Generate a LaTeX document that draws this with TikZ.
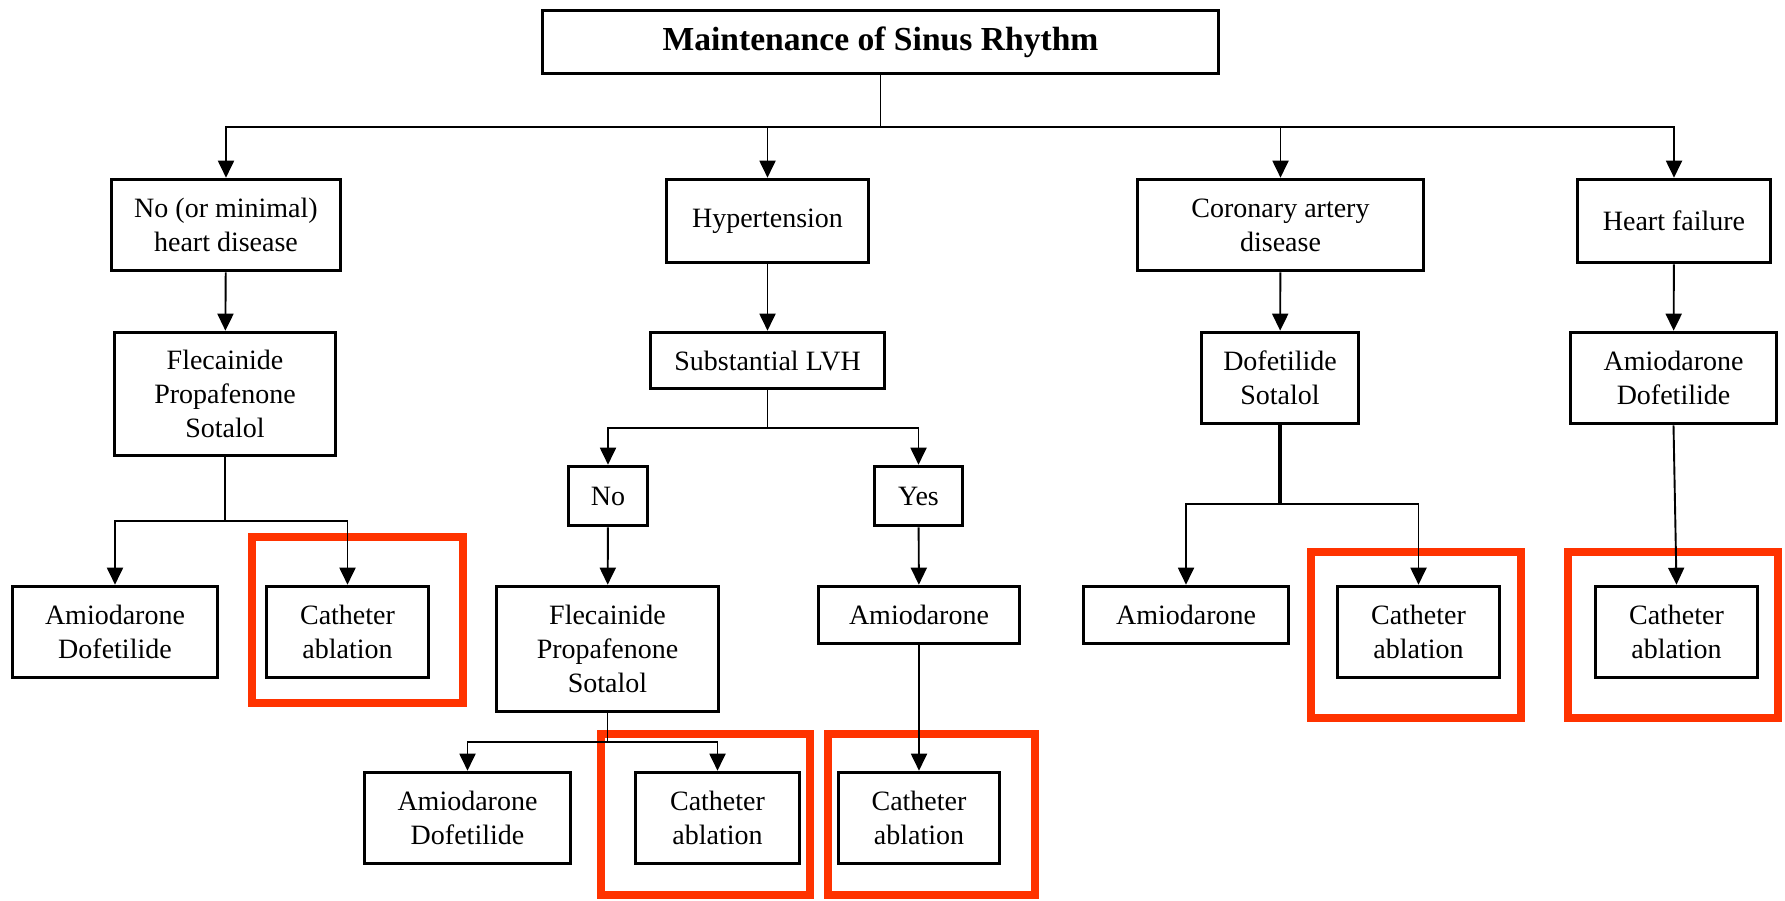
\documentclass[tikz,border=0pt]{standalone}
\usepackage{fontspec}
\setmainfont{Liberation Serif}
\usetikzlibrary{arrows.meta}
\definecolor{flag}{RGB}{255,51,0}

\begin{document}
\begin{tikzpicture}[x=1pt,y=-1pt,
  box/.style={draw, line width=3.6pt, rectangle, inner sep=0pt, align=center,
              font=\fontsize{28}{34}\selectfont},
  link/.style={line width=1.9pt},
  arr/.style={link, -{Triangle[length=17pt,width=16pt]}},
  flagbox/.style={draw=flag, line width=8pt}]

\useasboundingbox (0,0) rectangle (1785,901);

% highlight frames around the ablation options (drawn first, lines run over them)
\draw[flagbox] (252,537) rectangle (463,703);
\draw[flagbox] (601,734) rectangle (810,895);
\draw[flagbox] (828,734) rectangle (1035,895);
\draw[flagbox] (1311,552) rectangle (1521,718);
\draw[flagbox] (1568,552) rectangle (1778,718);

% root
\node[box, minimum width=676pt, minimum height=63pt,
      font=\fontsize{33.6}{40}\selectfont\bfseries] (top) at (880.5,42) {Maintenance of Sinus Rhythm};

% first level
\node[box, minimum width=229pt, minimum height=91pt] (nmh) at (226,225) {No (or minimal)\\heart disease};
\node[box, minimum width=202pt, minimum height=83pt] (htn) at (767.5,221) {Hypertension};
\node[box, minimum width=286pt, minimum height=91pt] (cad) at (1280.5,225) {Coronary artery\\disease};
\node[box, minimum width=193pt, minimum height=83pt] (hf) at (1674,221) {Heart failure};

% second level
\node[box, minimum width=221pt, minimum height=123pt] (flecA) at (225,394) {Flecainide\\Propafenone\\Sotalol};
\node[box, minimum width=234pt, minimum height=56pt] (lvh) at (767.5,360.5) {Substantial LVH};
\node[box, minimum width=157pt, minimum height=91pt] (dofsot) at (1280,378) {Dofetilide\\Sotalol};
\node[box, minimum width=206pt, minimum height=91pt] (amidofH) at (1673.5,378) {Amiodarone\\Dofetilide};

% LVH answers
\node[box, minimum width=79pt, minimum height=59pt] (no) at (608,496) {No};
\node[box, minimum width=88pt, minimum height=59pt] (yes) at (918.5,496) {Yes};

% third level
\node[box, minimum width=205pt, minimum height=91pt] (amidofA) at (115,632) {Amiodarone\\Dofetilide};
\node[box, minimum width=162pt, minimum height=91pt] (cathA) at (347.5,632) {Catheter\\ablation};
\node[box, minimum width=222pt, minimum height=125pt] (flecB) at (607.5,649) {Flecainide\\Propafenone\\Sotalol};
\node[box, minimum width=201pt, minimum height=57pt] (amiY) at (919,615) {Amiodarone};
\node[box, minimum width=205pt, minimum height=57pt] (amiC) at (1186,615) {Amiodarone};
\node[box, minimum width=162pt, minimum height=91pt] (cathC) at (1418.5,632) {Catheter\\ablation};
\node[box, minimum width=162pt, minimum height=91pt] (cathH) at (1676.5,632) {Catheter\\ablation};

% fourth level
\node[box, minimum width=206pt, minimum height=91pt] (amidofB) at (467.5,818) {Amiodarone\\Dofetilide};
\node[box, minimum width=164pt, minimum height=91pt] (cathB) at (717.5,818) {Catheter\\ablation};
\node[box, minimum width=161pt, minimum height=91pt] (cathY) at (919,818) {Catheter\\ablation};

% bus levels
\coordinate (b0) at (0,127);
\coordinate (bA) at (0,521);
\coordinate (bL) at (0,428);
\coordinate (bB) at (0,742);
\coordinate (bC) at (0,504);

% root to the four groups
\foreach \c in {nmh,htn,cad,hf}
  \draw[arr] (top.south) -- (top.south |- b0) -| (\c.north);

% straight arrows
\draw[arr] (nmh) -- (flecA);
\draw[arr] (htn) -- (lvh);
\draw[arr] (cad) -- (dofsot);
\draw[arr] (hf) -- (amidofH);
\draw[arr] (no) -- (flecB);
\draw[arr] (yes) -- (amiY);
\draw[arr] (amiY) -- (cathY);
\draw[arr] (amidofH.south) -- (cathH.north);

% branching
\foreach \c in {amidofA,cathA}
  \draw[arr] (flecA.south) -- (flecA.south |- bA) -| (\c.north);
\foreach \c in {no,yes}
  \draw[arr] (lvh.south) -- (lvh.south |- bL) -| (\c.north);
\foreach \c in {amidofB,cathB}
  \draw[arr] (flecB.south) -- (flecB.south |- bB) -| (\c.north);
\draw[line width=3.2pt] (dofsot.south) -- (dofsot.south |- bC);
\foreach \c in {amiC,cathC}
  \draw[arr] (dofsot.south |- bC) -| (\c.north);

\end{tikzpicture}
\end{document}
